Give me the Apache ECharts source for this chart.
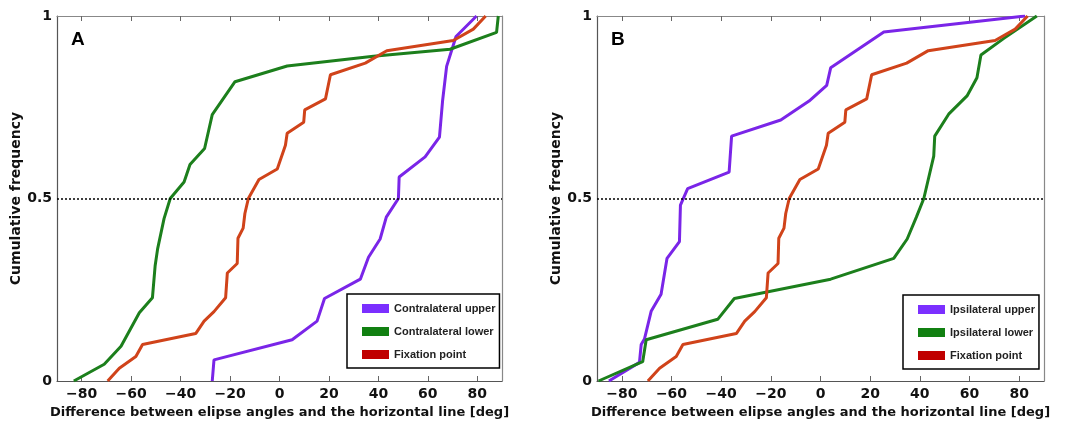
<!DOCTYPE html>
<html>
<head>
<meta charset="utf-8">
<script src="https://cdn.jsdelivr.net/npm/echarts@6/dist/echarts.min.js"></script>
<style>
html, body { margin: 0; padding: 0; background: #fff; }
#chart { width: 1077px; height: 428px; }
</style>
</head>
<body>
<div id="chart"></div>
<script>
// [angle deg, cumulative frequency]
const contraUpper = [
  [-27.2, 0], [-26.5, 0.058], [5.1, 0.113], [15.2, 0.164], [18.2, 0.226], [32.7, 0.279],
  [36.0, 0.339], [40.7, 0.389], [43.2, 0.449], [48.1, 0.5], [48.4, 0.559], [58.9, 0.614],
  [64.7, 0.668], [66.0, 0.77], [67.6, 0.862], [71.4, 0.944], [79.7, 1.0]
];
const contraLower = [
  [-83.2, 0], [-70.9, 0.046], [-64.1, 0.095], [-56.7, 0.187], [-51.4, 0.228], [-50.3, 0.316],
  [-49.3, 0.362], [-46.7, 0.445], [-44.2, 0.5], [-38.6, 0.545], [-36.2, 0.593], [-30.3, 0.637],
  [-27.2, 0.73], [-18.0, 0.82], [3.1, 0.863], [38.0, 0.89], [69.0, 0.909], [87.8, 0.955], [88.5, 1.0]
];
const fixationPoint = [
  [-69.5, 0], [-64.8, 0.035], [-58.1, 0.067], [-55.4, 0.1], [-33.9, 0.13], [-30.5, 0.164],
  [-26.5, 0.19], [-21.8, 0.228], [-21.1, 0.296], [-17.1, 0.322], [-16.8, 0.391], [-14.7, 0.419],
  [-14.0, 0.459], [-12.6, 0.5], [-8.3, 0.552], [-0.9, 0.581], [2.4, 0.646], [3.1, 0.679],
  [9.8, 0.709], [10.2, 0.743], [18.6, 0.773], [20.6, 0.839], [34.7, 0.871], [43.4, 0.905],
  [70.3, 0.933], [78.4, 0.964], [83.4, 1.0]
];
const ipsiUpper = [
  [-85.2, 0], [-72.9, 0.051], [-72.2, 0.1], [-70.9, 0.115], [-68.2, 0.191], [-64.2, 0.238],
  [-61.8, 0.336], [-56.8, 0.382], [-56.4, 0.482], [-53.5, 0.527], [-36.8, 0.572], [-35.8, 0.671],
  [-16.0, 0.715], [-4.6, 0.767], [2.5, 0.81], [4.1, 0.858], [25.5, 0.956], [82.4, 1.0]
];
const ipsiLower = [
  [-89.4, 0], [-71.6, 0.053], [-70.2, 0.113], [-41.4, 0.169], [-34.7, 0.226], [4.1, 0.279],
  [29.5, 0.336], [34.9, 0.389], [38.6, 0.449], [41.6, 0.5], [45.6, 0.616], [46.0, 0.671],
  [51.6, 0.731], [59.0, 0.781], [63.0, 0.831], [64.6, 0.893], [73.7, 0.938], [87.1, 1.0]
];
const xTicks = [-80, -60, -40, -20, 0, 20, 40, 60, 80];
const yTicks = [0, 0.5, 1];

const purple = '#7a25e8', green = '#1c7f1c', red = '#d0431a';
const legPurple = '#7b2fff', legGreen = '#118011', legRed = '#c00000';
const font = 'DejaVu Sans';
const xName = 'Difference between elipse angles and the horizontal line [deg]';

const myChart = echarts.init(document.getElementById('chart'));

const grids = [
  { left: 57, top: 16, width: 445, height: 365 },
  { left: 597, top: 16, width: 447, height: 365 }
];

function bottomX(idx) {
  return {
    type: 'value', gridIndex: idx, min: -90, max: 90, interval: 20,
    name: xName, nameLocation: 'middle', nameGap: 24,
    nameTextStyle: { fontFamily: font, fontWeight: 'bold', fontSize: 13, color: '#111' },
    axisLine: { show: true, onZero: false, lineStyle: { color: '#555', width: 1.2 } },
    axisTick: { show: true, inside: true, length: 5, lineStyle: { color: '#666' },
      customValues: xTicks },
    axisLabel: { customValues: xTicks, fontFamily: font, fontWeight: 'bold', fontSize: 14, color: '#111', margin: 6,
      formatter: v => String(v).replace('-', '\u2212') },
    splitLine: { show: false }
  };
}
function topX(idx) {
  return {
    type: 'value', gridIndex: idx, position: 'top', min: -90, max: 90,
    axisLine: { show: true, onZero: false, lineStyle: { color: '#888', width: 1.2 } },
    axisTick: { show: true, inside: true, length: 5, lineStyle: { color: '#666' }, customValues: xTicks },
    axisLabel: { show: false },
    splitLine: { show: false }
  };
}
function leftY(idx) {
  return {
    type: 'value', gridIndex: idx, min: 0, max: 1,
    name: 'Cumulative frequency', nameLocation: 'middle', nameGap: 30,
    nameTextStyle: { fontFamily: font, fontWeight: 'bold', fontSize: 14, color: '#111' },
    axisLine: { show: true, onZero: false, lineStyle: { color: '#555', width: 1.2 } },
    axisTick: { show: false },
    axisLabel: { customValues: yTicks, fontFamily: font, fontWeight: 'bold', fontSize: 14, color: '#111', margin: 5 },
    splitLine: { show: false }
  };
}
function rightY(idx) {
  return {
    type: 'value', gridIndex: idx, position: 'right', min: 0, max: 1,
    axisLine: { show: true, onZero: false, lineStyle: { color: '#888', width: 1.2 } },
    axisTick: { show: false }, axisLabel: { show: false }, splitLine: { show: false }
  };
}

function line(name, data, color, axis, withMark) {
  const s = {
    name: name, type: 'line', data: data, xAxisIndex: axis, yAxisIndex: axis,
    showSymbol: false, symbol: 'none', smooth: false,
    lineStyle: { color: color, width: 3 }, itemStyle: { color: color },
    z: 3
  };
  if (withMark) {
    s.markLine = {
      silent: true, symbol: 'none', label: { show: false },
      lineStyle: { color: '#000', type: [2, 2], width: 1.5 },
      data: [{ yAxis: 0.5 }]
    };
  }
  return s;
}

function legendBox(left, top, items) {
  return {
    orient: 'vertical', left: left, top: top, icon: 'rect',
    itemWidth: 27, itemHeight: 9, itemGap: 12,
    padding: [9, 4, 8, 15],
    backgroundColor: '#fff', borderColor: '#000', borderWidth: 1.5,
    textStyle: { fontFamily: 'Liberation Sans', fontWeight: 'bold', fontSize: 11, color: '#222' },
    data: items
  };
}

const option = {
  animation: false,
  backgroundColor: '#fff',
  title: [
    { text: 'A', left: 66, top: 25, textStyle: { fontFamily: 'Liberation Sans', fontWeight: 'bold', fontSize: 19, color: '#000' } },
    { text: 'B', left: 606, top: 25, textStyle: { fontFamily: 'Liberation Sans', fontWeight: 'bold', fontSize: 19, color: '#000' } }
  ],
  grid: grids,
  legend: [
    legendBox(347, 294, [
      { name: 'Contralateral upper', itemStyle: { color: legPurple } },
      { name: 'Contralateral lower', itemStyle: { color: legGreen } },
      { name: 'Fixation point', itemStyle: { color: legRed } }
    ]),
    legendBox(903, 295, [
      { name: 'Ipsilateral upper', itemStyle: { color: legPurple } },
      { name: 'Ipsilateral lower', itemStyle: { color: legGreen } },
      { name: 'Fixation point ', itemStyle: { color: legRed } }
    ])
  ],
  xAxis: [bottomX(0), bottomX(1), topX(0), topX(1)],
  yAxis: [leftY(0), leftY(1), rightY(0), rightY(1)],
  series: [
    line('Contralateral upper', contraUpper, purple, 0, true),
    line('Contralateral lower', contraLower, green, 0, false),
    line('Fixation point', fixationPoint, red, 0, false),
    line('Ipsilateral upper', ipsiUpper, purple, 1, true),
    line('Ipsilateral lower', ipsiLower, green, 1, false),
    line('Fixation point ', fixationPoint, red, 1, false)
  ]
};

myChart.setOption(option);
</script>
</body>
</html>
